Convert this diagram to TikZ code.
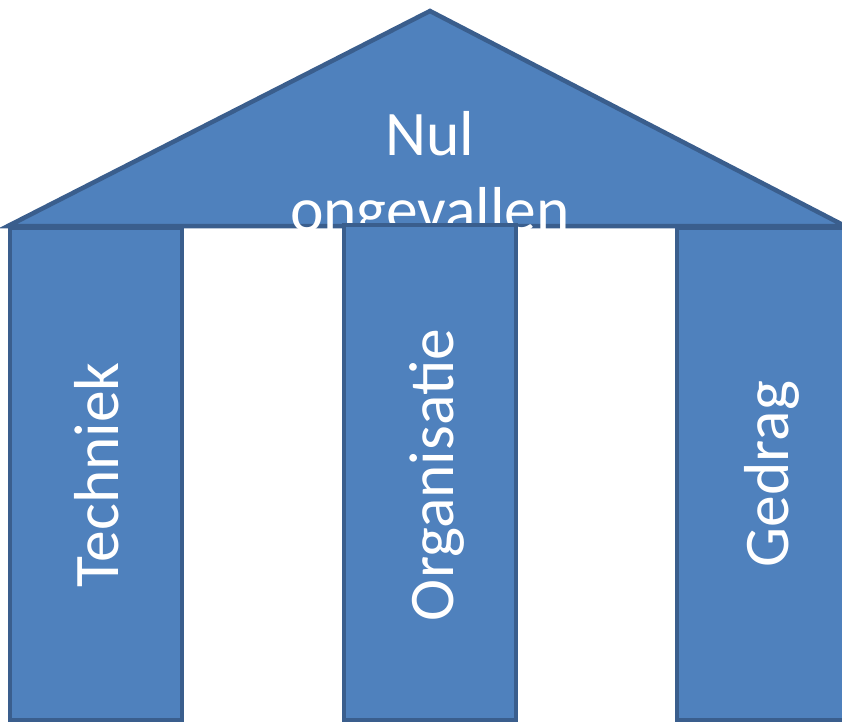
\documentclass[tikz,border=0pt]{standalone}
\usepackage{fontspec}
\setmainfont{Carlito}
\definecolor{pfill}{HTML}{4F81BD}
\definecolor{pline}{HTML}{3A5E8D}
\begin{document}
\begin{tikzpicture}[x=1pt,y=-1pt,
  part/.style={fill=pfill,draw=pline,line width=4.5pt,line join=miter},
  lbl/.style={text=white,font=\fontsize{63.5}{76}\selectfont,inner sep=0pt,anchor=base},
  vlbl/.style={lbl,rotate=90}]
\useasboundingbox (0,0) rectangle (842,724);
\clip (0,0) rectangle (842,724);
% side pillars
\draw[part] (10,228) rectangle (182,720);
\draw[part] (677,228) rectangle (860,720);
% roof
\draw[part] (8,226) -- (430,11) -- (845,226) -- cycle;
\node[lbl] (nul) at (430,155) {Nul};
\node[lbl] (ong) at (430,231) {ongevallen};
% middle pillar
\draw[part] (344,225) rectangle (516,720);
% pillar labels
\node[vlbl] (tech) at (118,475) {Techniek};
\node[vlbl] (org) at (453,475) {Organisatie};
\node[vlbl] (ged) at (788,474) {Gedrag};
\end{tikzpicture}
\end{document}
